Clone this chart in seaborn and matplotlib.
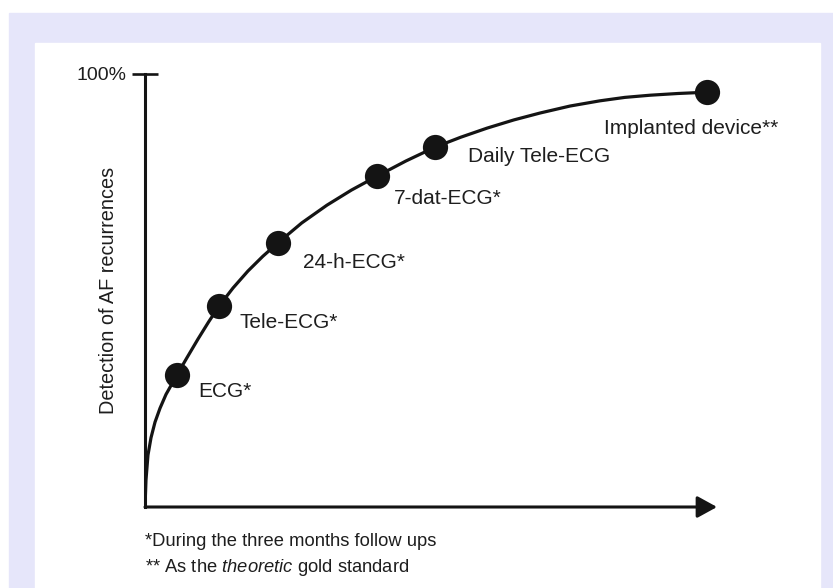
import matplotlib
matplotlib.use("Agg")
import matplotlib.pyplot as plt
from matplotlib.patches import Rectangle
import seaborn as sns
import pandas as pd

# curve (x: follow-up intensity, y: % detected)
curve_x = [0, 0.17, 0.52, 1.05, 1.75, 2.62, 3.67, 5.59, 7.3, 9.27, 11.1,
           12.94, 15.4, 18.0, 20.6, 23.25, 27.4, 31.8, 36.1, 40.56, 45.6,
           50.7, 55.2, 59.8, 64.5, 69.1, 74.3, 79.5, 83.9, 88.3, 93.2, 98.3]
curve_y = [0, 6.2, 12.0, 16.0, 19.6, 22.8, 26.0, 30.5, 34.4, 38.8, 42.7,
           46.4, 50.6, 54.5, 57.9, 61.0, 65.6, 69.7, 73.2, 76.4, 79.9,
           83.1, 85.4, 87.5, 89.4, 91.0, 92.6, 93.8, 94.6, 95.1, 95.5, 95.8]

# monitoring methods on the curve
methods = ['ECG*', 'Tele-ECG*', '24-h-ECG*', '7-dat-ECG*', 'Daily Tele-ECG',
           'Implanted device**']
method_x = [5.59, 12.94, 23.25, 40.56, 50.7, 98.3]
method_y = [30.5, 46.4, 61.0, 76.4, 83.1, 95.8]

ytick_vals = [100]
ytick_labels = ['100%']

# label offsets in points, relative to each marker
label_offsets = [(15, -12), (15, -12), (18, -14), (12, -16), (24, -7), (-74, -26)]

sns.set_theme(style='white')
plt.rcParams['font.family'] = ['Liberation Sans', 'DejaVu Sans']
plt.rcParams['mathtext.fontset'] = 'custom'
plt.rcParams['mathtext.rm'] = 'Liberation Sans'
plt.rcParams['mathtext.it'] = 'Liberation Sans:italic'

ink = '#141414'
txt = '#1e1e1e'

fig = plt.figure(figsize=(8.33, 5.88), dpi=100, facecolor='white')
# lavender frame and white panel, kept behind the axes
fig.patches.append(Rectangle((9 / 833, 0), 1, (588 - 13) / 588,
                             transform=fig.transFigure, color='#e6e6fa', zorder=-2))
fig.patches.append(Rectangle((35 / 833, 0), (820 - 35) / 833, (588 - 43) / 588,
                             transform=fig.transFigure, color='white', zorder=-1))

ax = fig.add_axes([145 / 833, (588 - 507) / 588, 572 / 833, 433 / 588])
ax.set_facecolor('none')

curve = pd.DataFrame({'x': curve_x, 'y': curve_y})
pts = pd.DataFrame({'x': method_x, 'y': method_y, 'method': methods})

sns.lineplot(data=curve, x='x', y='y', sort=False, estimator=None,
             color=ink, lw=2.3, ax=ax, zorder=3, solid_joinstyle='round')
sns.scatterplot(data=pts, x='x', y='y', s=330, color=ink, linewidth=0,
                ax=ax, zorder=4, clip_on=False)

for (name, mx, my), off in zip(zip(methods, method_x, method_y), label_offsets):
    ax.annotate(name, xy=(mx, my), xytext=off, textcoords='offset points',
                ha='left', va='center', fontsize=15, color=txt)

ax.set_xlim(0, 100)
ax.set_ylim(0, 100)
ax.set_xlabel('')
ax.set_ylabel('')
ax.set_xticks([])
ax.set_yticks(ytick_vals, ytick_labels)
ax.tick_params(axis='y', direction='inout', length=19, width=1.9, pad=3.5,
               labelsize=14, labelcolor=txt, color=ink, left=True)

for side in ['top', 'right', 'bottom']:
    ax.spines[side].set_visible(False)
ax.spines['left'].set_color(ink)
ax.spines['left'].set_linewidth(2.2)

# x axis drawn as an arrow
ax.annotate('', xy=(100, 0), xytext=(0, 0), xycoords='data',
            arrowprops=dict(arrowstyle='-|>,head_length=0.4,head_width=0.22',
                            color=ink, lw=2.2, mutation_scale=30,
                            shrinkA=0, shrinkB=0),
            annotation_clip=False)

ax.text(-0.063, 0.5, 'Detection of AF recurrences', transform=ax.transAxes,
        rotation=90, ha='center', va='center', fontsize=14.3, color=txt)

fig.text(145 / 833, (588 - 542) / 588, '*During the three months follow ups',
         ha='left', va='center', fontsize=13.2, color=txt)
fig.text(145 / 833, (588 - 567) / 588,
         r'** As the $\it{theoretic}$ gold standard',
         ha='left', va='center', fontsize=13.2, color=txt)

fig.savefig('out.png', dpi=100, facecolor=fig.get_facecolor())
